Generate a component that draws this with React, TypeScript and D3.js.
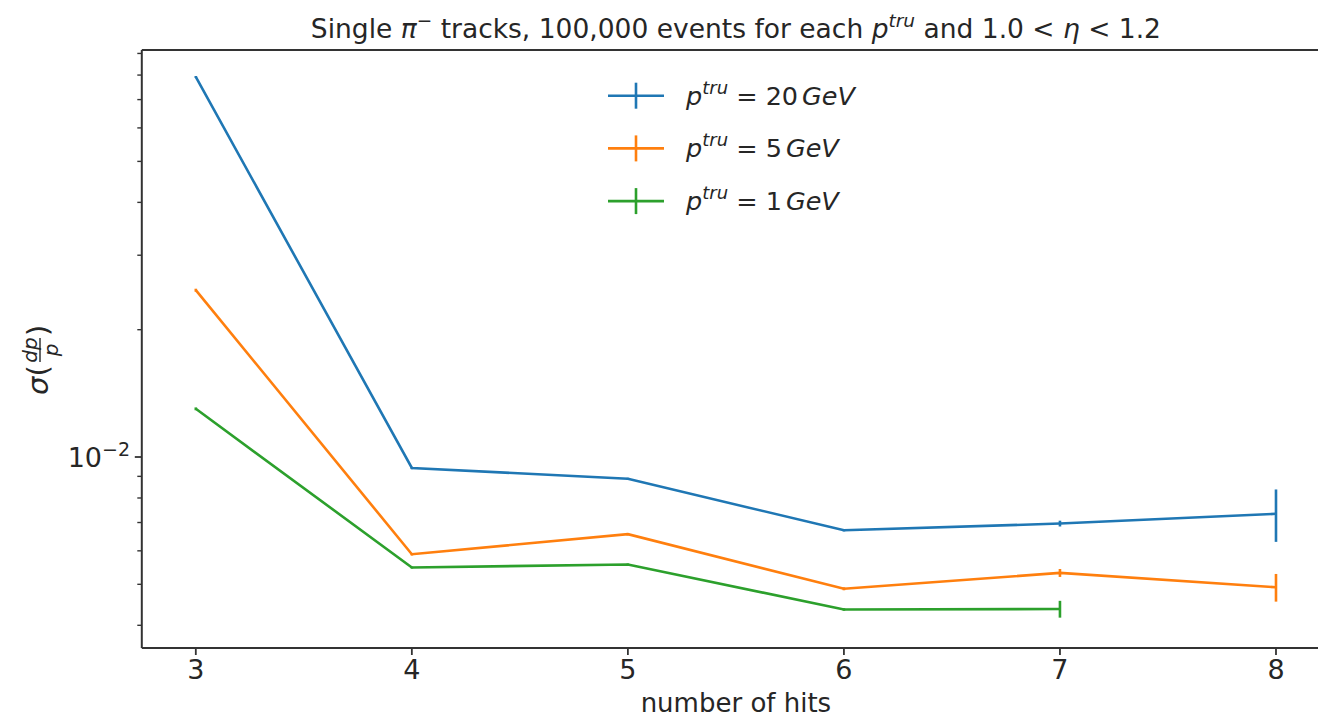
import React from 'react';
import * as d3 from 'd3';

// number of hits on the x axis
const hits = [3, 4, 5, 6, 7, 8];
const hitsLowP = [3, 4, 5, 6, 7];

// sigma(dp/p) and its error, one pair per momentum
const sigma20 = [0.0792, 0.00942, 0.00888, 0.00671, 0.00696, 0.00734];
const err20 = [0.0004, 0.00006, 0.00005, 0.00004, 0.00011, 0.00104];
const sigma5 = [0.0248, 0.00589, 0.00657, 0.00488, 0.00532, 0.00492];
const err5 = [0.0002, 0.00004, 0.00004, 0.00004, 0.000115, 0.00037];
const sigma1 = [0.013, 0.00548, 0.00557, 0.00436, 0.00437];
const err1 = [0.0001, 0.00003, 0.00003, 0.00003, 0.0002];

const momenta = ['20', '5', '1'];
const colors = ['#1f77b4', '#ff7f0e', '#2ca02c'];
const xTicks = [3, 4, 5, 6, 7, 8];

const W = 1318;
const H = 719;
const FONT = '"DejaVu Sans", sans-serif';

const x = d3.scaleLinear().domain([2.75, 8.25]).range([141.8, 1330]);
const y = d3.scaleLog().domain([3.535e-3, 9.17e-2]).range([648, 50]);

const series = [
  { xs: hits, ys: sigma20, es: err20 },
  { xs: hits, ys: sigma5, es: err5 },
  { xs: hitsLowP, ys: sigma1, es: err1 },
];

const minorTicks = d3.range(4, 10).map(d => d * 1e-3)
  .concat(d3.range(2, 10).map(d => d * 1e-2));

export default function App() {
  const line = d3.line<[number, number]>()
    .x(d => x(d[0]))
    .y(d => y(d[1]));

  const [x0, x1] = x.range();
  const [yb, yt] = y.range();

  return (
    <svg width={W} height={H} style={{ position: 'absolute', left: 0, top: 0, background: '#fff' }}
      fontFamily={FONT}>
      <rect width={W} height={H} fill="#fff" />

      {/* data */}
      {series.map((s, i) => {
        const pts = s.xs.map((v, j) => [v, s.ys[j]] as [number, number]);
        return (
          <g key={i} stroke={colors[i]} strokeWidth={2.6} fill="none">
            <path d={line(pts) || ''} strokeLinejoin="miter" />
            {pts.map((p, j) => (
              <line key={j} x1={x(p[0])} x2={x(p[0])}
                y1={y(p[1] - s.es[j])} y2={y(p[1] + s.es[j])} />
            ))}
          </g>
        );
      })}

      {/* frame */}
      <g stroke="#333" strokeWidth={2} fill="none">
        <line x1={x0} x2={x0} y1={yt} y2={yb} />
        <line x1={x0} x2={x1} y1={yb} y2={yb} />
        <line x1={x0} x2={x1} y1={yt} y2={yt} />
      </g>

      {/* x ticks */}
      {xTicks.map(t => (
        <g key={t} transform={`translate(${x(t)},${yb})`}>
          <line y2={7} stroke="#333" strokeWidth={1.8} />
          <text y={31} textAnchor="middle" fontSize={27} fill="#262626">{t}</text>
        </g>
      ))}

      {/* y ticks */}
      {minorTicks.map(t => (
        <line key={t} x1={x0} x2={x0 - 4.5} y1={y(t)} y2={y(t)} stroke="#333" strokeWidth={1.4} />
      ))}
      <line x1={x0} x2={x0 - 7} y1={y(0.01)} y2={y(0.01)} stroke="#333" strokeWidth={1.8} />
      <text x={130} y={y(0.01) + 10} textAnchor="end" fontSize={27} fill="#262626">
        10<tspan fontSize={19} dy={-11}>−2</tspan>
      </text>

      {/* axis labels */}
      <text x={(x0 + x1) / 2} y={712} textAnchor="middle" fontSize={26} fill="#262626">number of hits</text>
      <g transform={`translate(48,${(yt + yb) / 2}) rotate(-90)`} fill="#262626">
        <text x={-46} y={0} fontSize={29}><tspan fontStyle="italic">σ</tspan>(</text>
        <text x={-1} y={-11} fontSize={20} fontStyle="italic" textAnchor="middle">dp</text>
        <line x1={-13} x2={11} y1={-8} y2={-8} stroke="#262626" strokeWidth={1.4} />
        <text x={-1} y={10} fontSize={20} fontStyle="italic" textAnchor="middle">p</text>
        <text x={13} y={0} fontSize={29}>)</text>
      </g>

      {/* title */}
      <text x={(x0 + x1) / 2} y={38} textAnchor="middle" fontSize={26.5} fill="#262626">
        Single <tspan fontStyle="italic">π</tspan><tspan fontSize={18.5} dy={-11}>−</tspan>
        <tspan dy={11}> tracks, 100,000 events for each </tspan>
        <tspan fontStyle="italic">p</tspan><tspan fontStyle="italic" fontSize={18.5} dy={-11}>tru</tspan>
        <tspan dy={11}> and 1.0 &lt; </tspan><tspan fontStyle="italic">η</tspan><tspan> &lt; 1.2</tspan>
      </text>

      {/* legend */}
      {momenta.map((m, i) => {
        const ly = 95.7 + i * 52.7;
        return (
          <g key={m} transform={`translate(608,${ly})`}>
            <line x1={0} x2={56} stroke={colors[i]} strokeWidth={2.6} />
            <line x1={28} x2={28} y1={-13} y2={13} stroke={colors[i]} strokeWidth={2.6} />
            <text x={78} y={9} fontSize={25.5} fill="#262626">
              <tspan fontStyle="italic">p</tspan>
              <tspan fontStyle="italic" fontSize={18} dy={-11}>tru</tspan>
              <tspan dy={11}> = {m}</tspan>
              <tspan fontStyle="italic" dx={4}>GeV</tspan>
            </text>
          </g>
        );
      })}
    </svg>
  );
}
